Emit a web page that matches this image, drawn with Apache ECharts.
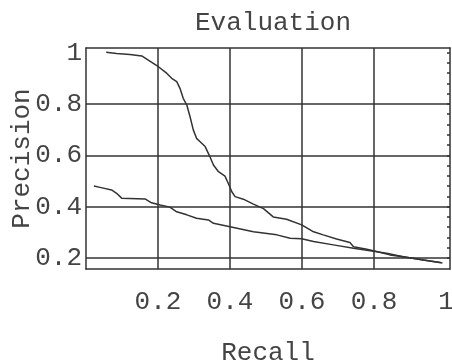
<!DOCTYPE html>
<html>
<head>
<meta charset="utf-8">
<script src="https://cdn.jsdelivr.net/npm/echarts@6/dist/echarts.min.js"></script>
<style>html,body{margin:0;padding:0;background:#fff}#c{width:452px;height:364px}</style>
</head>
<body>
<div id="c"></div>
<script>
// Curve A (upper curve): recall, precision
const recallA = [0.056,0.085,0.122,0.155,0.173,0.201,0.224,0.238,0.252,0.261,0.270,0.280,0.289,0.298,0.307,0.317,0.331,0.344,0.354,0.368,0.386,0.395,0.405,0.414,0.437,0.465,0.493,0.520,0.557,0.599,0.632,0.659,0.696,0.733,0.743,0.780,0.807,0.844,0.881,0.937,0.990];
const precisionA = [1.001,0.997,0.993,0.987,0.971,0.945,0.920,0.900,0.887,0.861,0.822,0.796,0.750,0.699,0.666,0.653,0.634,0.595,0.562,0.536,0.519,0.491,0.458,0.439,0.429,0.410,0.392,0.360,0.351,0.329,0.302,0.290,0.274,0.260,0.244,0.234,0.225,0.212,0.205,0.192,0.180];
// Curve B (lower curve)
const recallB = [0.022,0.039,0.071,0.085,0.099,0.164,0.182,0.206,0.233,0.252,0.280,0.307,0.340,0.354,0.400,0.465,0.530,0.567,0.599,0.632,0.687,0.743,0.789,0.835,0.881,0.937,0.985];
const precisionB = [0.480,0.475,0.465,0.452,0.433,0.430,0.415,0.406,0.398,0.380,0.368,0.355,0.348,0.335,0.322,0.302,0.290,0.277,0.275,0.264,0.251,0.238,0.228,0.218,0.205,0.192,0.182];
const xTicks = [0.2,0.4,0.6,0.8,1];
const yTicks = [0.2,0.4,0.6,0.8,1];
const xGrid = [0.2,0.4,0.6,0.8];
const yGrid = [0.2,0.4,0.6,0.8];
const rightMinor = [0.2,0.24,0.28,0.32,0.36,0.4,0.44,0.48,0.52,0.56,0.6,0.64,0.68,0.72,0.76,0.8,0.84,0.88,0.92,0.96,1.0];

const FONT = "'Courier New', Courier, 'Liberation Mono', monospace";
const INK = '#333';
const TXT = '#444';
const FS = 26;
const fmt = v => (v === 1 ? '1' : String(v));

const chart = echarts.init(document.getElementById('c'), null, {renderer:'canvas'});
const lineStyleGrid = {color: INK, width: 1.5, type: 'solid'};
const option = {
  animation: false,
  backgroundColor: '#fff',
  title: {
    text: 'Evaluation', left: 268, top: 5, textAlign: 'center',
    textStyle: {fontFamily: FONT, fontSize: FS, fontWeight: 'normal', color: TXT}
  },
  grid: {left: 86, top: 48, right: 2, bottom: 95, containLabel: false, outerBoundsMode: 'none'},
  xAxis: [
    {type: 'value', min: 0, max: 1.011, position: 'bottom',
     name: 'Recall', nameLocation: 'middle', nameGap: 71, nameMoveOverlap: false,
     nameTextStyle: {fontFamily: FONT, fontSize: FS, color: TXT},
     axisLine: {show: true, onZero: false, lineStyle: {color: INK, width: 1.5}},
     axisTick: {show: false},
     splitLine: {show: false},
     axisLabel: {customValues: xTicks, formatter: fmt, margin: 20, fontFamily: FONT, fontSize: FS, color: TXT, showMaxLabel: true, hideOverlap: false}
    },
    {type: 'value', min: 0, max: 1.011, position: 'top',
     axisLine: {show: true, onZero: false, lineStyle: {color: INK, width: 1.5}},
     axisTick: {show: false}, axisLabel: {show: false}, splitLine: {show: false}}
  ],
  yAxis: [
    {type: 'value', min: 0.157, max: 1.018, position: 'left',
     name: 'Precision', nameLocation: 'middle', nameGap: 51, nameRotate: 90, nameMoveOverlap: false,
     nameTextStyle: {fontFamily: FONT, fontSize: FS, color: TXT},
     axisLine: {show: true, onZero: false, lineStyle: {color: INK, width: 1.5}},
     axisTick: {show: false}, splitLine: {show: false},
     axisLabel: {customValues: yTicks, formatter: fmt, margin: 4, fontFamily: FONT, fontSize: FS, color: TXT}
    },
    {type: 'value', min: 0.157, max: 1.018, position: 'right',
     axisLine: {show: true, onZero: false, lineStyle: {color: INK, width: 1.5}},
     axisTick: {show: true, inside: true, length: 3, customValues: rightMinor, lineStyle: {color: INK, width: 1.5}},
     axisLabel: {show: false}, splitLine: {show: false}}
  ],
  series: [
    {type: 'line', xAxisIndex: 0, yAxisIndex: 0, data: [],
     markLine: {silent: true, symbol: 'none', label: {show: false}, lineStyle: lineStyleGrid,
       data: xGrid.map(v => ({xAxis: v})).concat(yGrid.map(v => ({yAxis: v})))}},
    {type: 'line', xAxisIndex: 0, yAxisIndex: 0, showSymbol: false, symbol: 'none',
     lineStyle: {color: INK, width: 1.5}, data: recallA.map((x, i) => [x, precisionA[i]])},
    {type: 'line', xAxisIndex: 0, yAxisIndex: 0, showSymbol: false, symbol: 'none',
     lineStyle: {color: INK, width: 1.5}, data: recallB.map((x, i) => [x, precisionB[i]])}
  ]
};
chart.setOption(option);
</script>
</body>
</html>
